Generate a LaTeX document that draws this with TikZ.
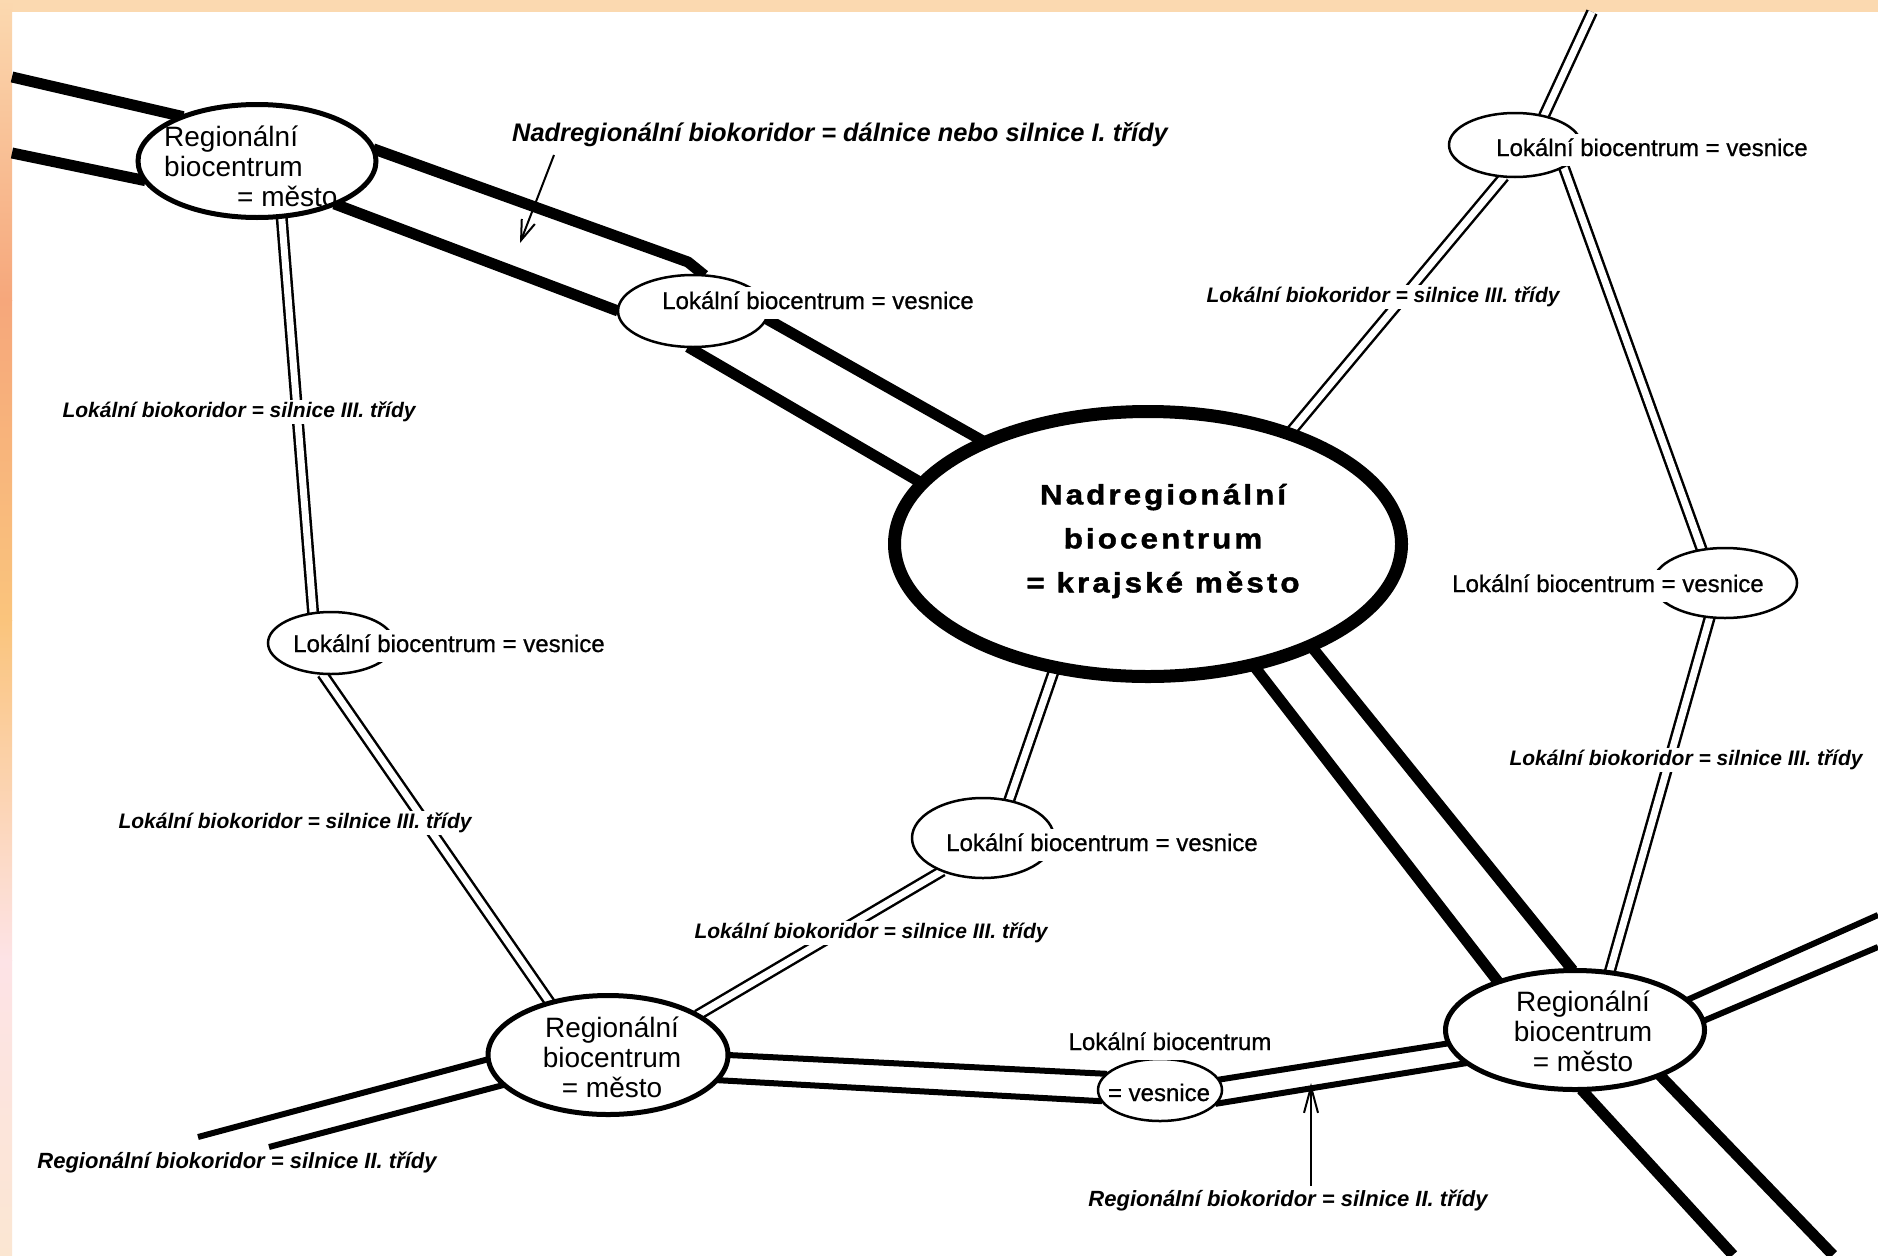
\documentclass[tikz,border=0pt]{standalone}
\usepackage{fontspec}
\setmainfont{Liberation Sans}
\newfontfamily\centfont[LetterSpace=11, FakeStretch=1.12, FakeBold=1.5]{Liberation Sans}
\newfontfamily\locfont[FakeBold=0.8]{Liberation Sans}
\usetikzlibrary{shapes.geometric,arrows.meta}
\pgfdeclarelayer{back}
\pgfdeclarelayer{roads}
\pgfdeclarelayer{top}
\pgfsetlayers{back,roads,main,top}
\definecolor{bandA}{HTML}{FBD9B0}
\definecolor{bandB}{HTML}{F6A77B}
\definecolor{bandC}{HTML}{FAC47C}
\definecolor{bandD}{HTML}{FDE3E6}
\definecolor{bandE}{HTML}{FBE6D2}
\begin{document}
\begin{tikzpicture}[x=1pt,y=-1pt,
  hw/.style={line width=11pt, line join=round},
  rr/.style={line width=6pt},
  lr/.style={draw=black, double=white, double distance=7pt, line width=2.5pt},
  ell/.style={ellipse, draw, fill=white, inner sep=0pt, outer sep=0pt},
  locell/.style={ell, line width=2.5pt},
  regell/.style={ell, line width=5pt},
  loctxt/.style={fill=white, draw=none, inner sep=2pt, text height=20pt, text depth=8pt, font=\fontsize{24}{28}\selectfont\locfont},
  regtxt/.style={inner sep=0pt, align=center, font=\fontsize{28}{30}\selectfont},
  corr/.style={fill=white, inner sep=2pt, font=\fontsize{21}{24}\selectfont\bfseries\itshape},
  ptr/.style={line width=2pt, -{Straight Barb[length=20pt,width=14pt]}}]
\useasboundingbox (0,0) rectangle (1878,1255);
\begin{pgfonlayer}{back}
\fill[white] (0,0) rectangle (1878,1255);
\fill[bandA] (0,0) rectangle (1878,12);
\shade[top color=bandA, bottom color=bandB] (0,0) rectangle (12,300);
\shade[top color=bandB, bottom color=bandC] (0,300) rectangle (12,620);
\shade[top color=bandC, bottom color=bandD] (0,620) rectangle (12,960);
\shade[top color=bandD, bottom color=bandE] (0,960) rectangle (12,1255);
\end{pgfonlayer}

% centres
\node[regell, minimum width=238pt, minimum height=113pt] (RUL) at (257,161) {};
\node[locell, minimum width=150pt, minimum height=72pt] (LU) at (693,311) {};
\node[ell, line width=13pt, minimum width=507pt, minimum height=265pt] (C) at (1148,544) {};
\node[locell, minimum width=132pt, minimum height=64pt] (LUR) at (1515,145) {};
\node[locell, minimum width=144pt, minimum height=70pt] (LMR) at (1725,583) {};
\node[regell, minimum width=259pt, minimum height=119pt] (RLR) at (1575,1030) {};
\node[locell, minimum width=126pt, minimum height=62pt] (LML) at (331,643) {};
\node[locell, minimum width=142pt, minimum height=80pt] (LBM) at (983,838) {};
\node[regell, minimum width=240pt, minimum height=119pt] (RLL) at (608,1055) {};
\node[locell, minimum width=124pt, minimum height=62pt] (V) at (1160,1090) {};

% free ends
\coordinate (eL1) at (12,77);
\coordinate (eL2) at (12,153);
\coordinate (eB1) at (1733,1255);
\coordinate (eB2) at (1833,1255);
\coordinate (eR1) at (1878,915);
\coordinate (eR2) at (1878,947);
\coordinate (eT) at (1592,12);
\coordinate (eLL1) at (198,1137);
\coordinate (eLL2) at (269,1147);
\coordinate (bend) at (688,262);

\begin{pgfonlayer}{roads}
% supra-regional corridor
\draw[hw] (eL1) -- (RUL.149.6);
\draw[hw] (eL2) -- (RUL.190.3);
\draw[hw] (RUL.6.5) -- (bend) -- (LU.72.9);
\draw[hw] (RUL.-29.7) -- (LU.180);
\draw[hw] (LU.-6.8) -- (C.148.7);
\draw[hw] (LU.-98.7) -- (C.165.1);
\draw[hw] (C.-49.8) -- (RLR.148);
\draw[hw] (C.-32.1) -- (RLR.92.6);
\draw[hw] (RLR.-84.6) -- (eB1);
\draw[hw] (RLR.-28.8) -- (eB2);
% regional corridors
\draw[rr] (RLL.182.3) -- (eLL1);
\draw[rr] (RLL.196) -- (eLL2);
\draw[rr] (RLL.-0.5) -- (V.163.7);
\draw[rr] (RLL.-13.5) -- (V.191.5);
\draw[rr] (V.10) -- (RLR.186.4);
\draw[rr] (V.-14) -- (RLR.197.8);
\draw[rr] (RLR.15.8) -- (eR1);
\draw[rr] (RLR.4.3) -- (eR2);
% local corridors
\draw[lr] (eT) -- (LUR.45.9);
\draw[lr] (LUR.-109) -- (C.38.8);
\draw[lr] (LUR.-24.4) -- (LMR.125.8);
\draw[lr] (LMR.-114.6) -- (RLR.59.2);
\draw[lr] (RUL.-66.5) -- (LML.121.5);
\draw[lr] (LML.-106.7) -- (RLL.138.8);
\draw[lr] (C.-127.2) -- (LBM.55.6);
\draw[lr] (LBM.-141.2) -- (RLL.24.9);
\end{pgfonlayer}

\begin{pgfonlayer}{top}
% texts in centres
\node[regtxt, anchor=west, align=left] (tRUL) at (164,166) {Regionální\\biocentrum\\\hspace*{73pt}= město};
\node[regtxt] (tRLR) at (1583,1031) {Regionální\\biocentrum\\= město};
\node[regtxt] (tRLL) at (612,1057) {Regionální\\biocentrum\\= město};
\node[inner sep=0pt, align=center, font=\fontsize{28}{44}\selectfont\centfont\bfseries] (tC) at (1163,541) {Nadregionální\\biocentrum\\= krajské město};
\node[loctxt] (tLU) at (818,303) {Lokální biocentrum = vesnice};
\node[loctxt] (tLUR) at (1652,150) {Lokální biocentrum = vesnice};
\node[loctxt] (tLMR) at (1608,586) {Lokální biocentrum = vesnice};
\node[loctxt] (tLML) at (449,646) {Lokální biocentrum = vesnice};
\node[loctxt] (tLBM) at (1102,845) {Lokální biocentrum = vesnice};
\node[loctxt] (tV1) at (1170,1044) {Lokální biocentrum};
\node[loctxt, fill=none] (tV2) at (1159,1095) {= vesnice};

% corridor labels
\node[corr, font=\fontsize{25.4}{28}\selectfont\bfseries\itshape] (kNR) at (840,135) {Nadregionální biokoridor = dálnice nebo silnice I. třídy};
\node[corr] (kA) at (239,412) {Lokální biokoridor = silnice III. třídy};
\node[corr] (kB) at (295,823) {Lokální biokoridor = silnice III. třídy};
\node[corr] (kC) at (871,933) {Lokální biokoridor = silnice III. třídy};
\node[corr] (kD) at (1383,297) {Lokální biokoridor = silnice III. třídy};
\node[corr] (kE) at (1686,760) {Lokální biokoridor = silnice III. třídy};
\node[corr, font=\fontsize{22}{26}\selectfont\bfseries\itshape] (kF) at (237,1163) {Regionální biokoridor = silnice II. třídy};
\node[corr, font=\fontsize{22}{26}\selectfont\bfseries\itshape] (kG) at (1288,1201) {Regionální biokoridor = silnice II. třídy};

% pointers
\coordinate (p1s) at (554,155);
\coordinate (p1e) at (520,243);
\coordinate (p2s) at (1311,1186);
\coordinate (p2e) at (1311,1083);
\draw[ptr] (p1s) -- (p1e);
\draw[ptr, -{Straight Barb[length=26pt,width=14pt]}] (p2s) -- (p2e);
\end{pgfonlayer}
\end{tikzpicture}
\end{document}
